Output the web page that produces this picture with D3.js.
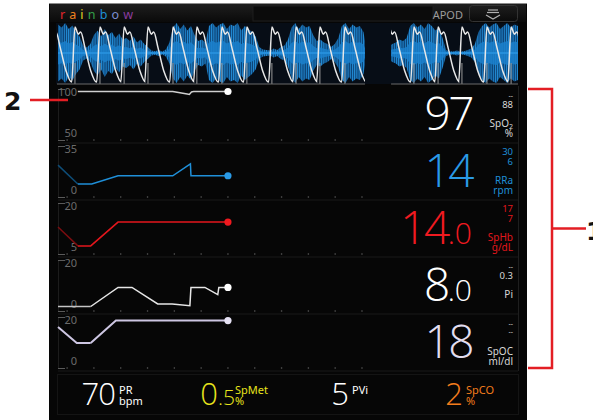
<!DOCTYPE html>
<html lang="en">
<head>
  <meta charset="UTF-8" />
  <title>rainbow monitor screen</title>
  <style>
    body { margin: 0; background: white; }
    svg { display: block; font-family: "Noto Sans", "Open Sans", sans-serif; }
  </style>
</head>
<body>
  <svg width="593" height="420"></svg>

  <script src="https://d3js.org/d3.v7.min.js"></script>
  <script>
    // ---- waveform data (seconds across a 16 s sweep) ----
    const beatTimes = [-0.27, 0.59, 1.46, 2.30, 3.13, 4.00, 4.83, 5.70, 6.57, 7.44, 8.28, 9.11, 9.98,
                       11.51, 12.38, 13.22, 14.05, 14.92, 15.76];
    // one pleth pulse: [seconds from peak, normalised height]
    const pulseShape = [[-0.115, 0], [0, 1], [0.115, 0.87], [0.2, 0.91], [0.35, 0.62], [0.55, 0.2], [0.74, 0]];
    // acoustic signal envelope, one value every 0.125 s
    const noiseAmp = [0.95, 0.85, 1.0, 0.8, 0.92, 0.7, 0.55,
                      0.25, 0.18, 0.3,
                      0.6, 0.75, 0.55, 0.8, 0.6, 0.7, 0.5, 0.65, 0.45,
                      0.5, 0.4, 0.55, 0.35, 0.45, 0.3, 0.2,
                      0.08, 0.06, 0.1, 0.05, 0.12, 0.35,
                      0.85, 1.0, 0.8, 0.95, 0.75, 0.9, 0.6,
                      0.4, 0.45, 0.35,
                      0.9, 1.0, 0.85, 0.95, 1.0, 0.8, 0.95, 0.9, 1.0, 0.75, 0.9, 0.8, 0.7, 0.55,
                      0.2, 0.12, 0.1, 0.08, 0.15, 0.1, 0.2, 0.25, 0.45,
                      0.85, 1.0, 0.8, 0.95, 0.85, 0.9, 0.6,
                      0.4, 0.45, 0.35, 0.3,
                      0.2, 0.3, 0.5,
                      0.9, 1.0, 0.8, 0.95, 0.85, 0.9, 0.7,
                      0, 0, 0, 0, 0, 0,
                      0.2, 0.3, 0.35, 0.45, 0.4, 0.5,
                      0.9, 1.0, 0.85, 0.95, 0.8, 1.0, 0.9, 0.75, 0.85, 0.5,
                      0.1, 0.06, 0.05, 0.08, 0.05, 0.06, 0.1, 0.15, 0.3,
                      0.7, 0.9, 1.0, 0.85, 0.95, 1.0, 0.8, 0.9, 1.0, 0.85, 0.95, 0.9];
    const noiseStep = 0.125;
    const sweeps = [[0, 10.68], [11.62, 16]];

    // ---- trend data: [minutes from now, value] ----
    const spo2Trend = [[-28, 100], [-10.3, 100], [-7.6, 97], [-7.2, 96.5], [-6.8, 99.5], [-6.4, 100], [0, 100]];
    const rraTrend = [[-31.7, 21], [-28, 5], [-25.4, 5], [-20.5, 12], [-10.3, 12], [-7, 22], [-6.9, 12], [0, 12]];
    const sphbTrend = [[-31.7, 12.2], [-28, 5.4], [-25.6, 5.4], [-20.5, 14], [0, 14]];
    const piTrend = [[-31.7, -1.2], [-25.6, -1.2], [-20.5, 8], [-17.9, 8], [-13.1, 0], [-10.4, 0], [-7.1, -0.8],
                     [-6.9, 8], [-4.3, 8], [-1.9, 4.5], [-1.7, 8], [0, 8]];
    const spocTrend = [[-31.7, 16.4], [-28.2, 8.7], [-25.6, 8.7], [-20.9, 19.5], [0, 19.5]];
    const trendTicks = [-30, -25, -20, -15, -10, -5, 0, 5, 10, 15, 20, 25];
    const historyEnd = -28;

    const trendNames = ["SpO", "RRa", "SpHb", "Pi", "SpOC"];
    const trendUnits = ["%", "rpm", "g/dL", "", "ml/dl"];
    const trendDomains = [[50, 100], [0, 35], [5, 20], [0, 20], [0, 20]];
    const currentWhole = ["97", "14", "14", "8", "18"];
    const currentDecimal = ["", "", ".0", ".0", ""];
    const alarmHigh = ["--", "30", "17", "--", "--"];
    const alarmLow = ["88", "6", "7", "0.3", "--"];

    const bottomNames = ["PR", "SpMet", "PVi", "SpCO"];
    const bottomWhole = ["70", "0", "5", "2"];
    const bottomDecimal = ["", ".5", "", ""];
    const bottomUnits = ["bpm", "%", "", "%"];

    const brandLetters = ["r", "a", "i", "n", "b", "o", "w"];
    const brandColors = ["#e4262c", "#ef8320", "#e6d424", "#33a04a", "#1f8fd6", "#7c8fcf", "#8a3c9e"];

    const trendData = [spo2Trend, rraTrend, sphbTrend, piTrend, spocTrend];
    const lineColors = ["#cfcfcf", "#1f8fd8", "#e3161c", "#e6e6e6", "#cdc6e2"];
    const dimColors = ["#cfcfcf", "#0e4d78", "#7c0d10", "#c4c4c4", "#cdc6e2"];
    const dotColors = ["#ffffff", "#2a9ae6", "#f0191f", "#ffffff", "#e6e2f4"];
    const valueColors = ["#ffffff", "#2a9ae6", "#f01a20", "#ffffff", "#e2deef"];
    const labelColors = ["#d8d8d8", "#1f8fd8", "#e3161c", "#d8d8d8", "#d8d8d8"];
    const bottomColors = ["#ffffff", "#e8e41c", "#ffffff", "#f27c1c"];

    const svg = d3.select("svg");
    const defs = svg.append("defs");

    // ---- frame ----
    svg.append("rect").attr("x", 49).attr("y", 3).attr("width", 478).attr("height", 417).attr("fill", "#060606");
    svg.append("line").attr("x1", 49).attr("x2", 527).attr("y1", 3.5).attr("y2", 3.5)
      .attr("stroke", "#8c8c8c").attr("stroke-width", 1);

    const hdrGrad = defs.append("linearGradient").attr("id", "hdr").attr("x1", 0).attr("x2", 0).attr("y1", 0).attr("y2", 1);
    hdrGrad.append("stop").attr("offset", 0).attr("stop-color", "#1e1e1e");
    hdrGrad.append("stop").attr("offset", 1).attr("stop-color", "#0a0a0a");
    svg.append("rect").attr("x", 50).attr("y", 4).attr("width", 476).attr("height", 18).attr("fill", "url(#hdr)");
    svg.append("rect").attr("x", 253).attr("y", 6).attr("width", 180).attr("height", 15)
      .attr("fill", "#0b0b0b").attr("stroke", "#1e1e1e");
    svg.append("rect").attr("x", 469.5).attr("y", 5.5).attr("width", 48).attr("height", 16).attr("rx", 3)
      .attr("fill", "url(#hdr)").attr("stroke", "#333");
    const icon = svg.append("g").attr("stroke", "#b0b0b0").attr("stroke-width", 1.2).attr("fill", "none");
    icon.append("line").attr("x1", 488).attr("x2", 498).attr("y1", 10).attr("y2", 10);
    icon.append("line").attr("x1", 487).attr("x2", 499).attr("y1", 12.5).attr("y2", 12.5);
    icon.append("path").attr("d", "M486,15 L493,19 L500,15");

    svg.append("text").attr("x", 60).attr("y", 19).attr("font-size", 12.5).attr("letter-spacing", 4.2)
      .selectAll("tspan").data(brandLetters).join("tspan")
      .attr("fill", (d, i) => brandColors[i]).text(d => d);
    svg.append("text").attr("x", 463).attr("y", 19).attr("text-anchor", "end")
      .attr("font-size", 11).attr("fill", "#9c9c9c").text("APOD");

    // ---- waveform ----
    const waveX = d3.scaleLinear().domain([0, 16]).range([58, 518]);
    const plethY = d3.scaleLinear().domain([0, 1]).range([82, 27]);
    const noiseY = d3.scaleLinear().domain([-1, 1]).range([83, 23]);

    svg.append("rect").attr("x", 56).attr("y", 23).attr("width", 462).attr("height", 61).attr("fill", "#070d16");

    sweeps.forEach((s, i) => {
      defs.append("clipPath").attr("id", "sweep" + i).append("rect")
        .attr("x", waveX(s[0]) - 1).attr("y", 22).attr("width", waveX(s[1]) - waveX(s[0]) + 1).attr("height", 63);
    });

    const tex = defs.append("pattern").attr("id", "noiseTex").attr("patternUnits", "userSpaceOnUse")
      .attr("width", 2.2).attr("height", 6);
    tex.append("rect").attr("width", 2.2).attr("height", 6).attr("fill", "#0b3f70");
    tex.append("rect").attr("width", 1).attr("height", 6).attr("fill", "#2490dc");

    const noiseArea = d3.area()
      .x((d, i) => waveX(i * noiseStep))
      .y0(d => noiseY(-d))
      .y1(d => noiseY(d));
    const innerArea = d3.area()
      .x((d, i) => waveX(i * noiseStep))
      .y0(d => noiseY(-d * 0.4))
      .y1(d => noiseY(d * 0.4));

    const plethPoints = beatTimes.flatMap(b => pulseShape.map(([dt, v]) => [b + dt, v]));
    const plethLine = d3.line().x(d => waveX(d[0])).y(d => plethY(d[1])).curve(d3.curveMonotoneX);

    sweeps.forEach((s, i) => {
      const g = svg.append("g").attr("clip-path", `url(#sweep${i})`);
      g.append("path").datum(noiseAmp).attr("d", noiseArea).attr("fill", "url(#noiseTex)");
      g.append("path").datum(noiseAmp).attr("d", innerArea).attr("fill", "#1b80cc").attr("opacity", 0.85);
      g.append("line").attr("x1", waveX(s[0])).attr("x2", waveX(s[1]))
        .attr("y1", noiseY(0)).attr("y2", noiseY(0)).attr("stroke", "#2a94e0").attr("stroke-width", 1.4);
      g.selectAll("line.beat").data(beatTimes).join("line").attr("class", "beat")
        .attr("x1", d => waveX(d)).attr("x2", d => waveX(d))
        .attr("y1", 63).attr("y2", 84).attr("stroke", "#9a9a9a").attr("stroke-width", 1);
      g.append("path").datum(plethPoints).attr("d", plethLine)
        .attr("fill", "none").attr("stroke", "#e8e8e8").attr("stroke-width", 1.5);
      svg.append("line").attr("x1", waveX(s[0]) - 1).attr("x2", waveX(s[1]))
        .attr("y1", 84).attr("y2", 84).attr("stroke", "#6a6a6a").attr("stroke-width", 1);
    });

    // ---- trend rows ----
    const trendX = d3.scaleLinear().domain([-31.7, 54.1]).range([58, 518]);
    const rowH = 57;

    trendNames.forEach((name, i) => {
      const top = 86 + i * rowH;
      const y = d3.scaleLinear().domain(trendDomains[i]).range([top + 47, top + 5.5]);
      const g = svg.append("g");

      g.append("line").attr("x1", 58).attr("x2", 518).attr("y1", top + rowH).attr("y2", top + rowH)
        .attr("stroke", "#191919");
      g.append("line").attr("x1", 58.5).attr("x2", 58.5).attr("y1", top + 3).attr("y2", top + 54)
        .attr("stroke", "#1c1c1c");
      [top + 3, top + 54].forEach(yy => {
        g.append("line").attr("x1", 58).attr("x2", 65).attr("y1", yy + 0.5).attr("y2", yy + 0.5)
          .attr("stroke", "#5a5a5a");
      });

      g.selectAll("circle.tick").data(trendTicks).join("circle").attr("class", "tick")
        .attr("cx", d => trendX(d)).attr("cy", top + 54).attr("r", 0.8).attr("fill", "#5a5a5a");

      g.append("g").attr("transform", "translate(78,0)")
        .call(d3.axisLeft(y).tickValues(trendDomains[i]).tickSize(0).tickPadding(1).tickFormat(d3.format("d")))
        .call(a => a.select(".domain").remove())
        .call(a => a.selectAll("text").attr("fill", "#6b6b6b").attr("font-size", 11)
          .attr("font-family", "\"Noto Sans\", sans-serif"));

      const line = d3.line().x(d => trendX(d[0])).y(d => y(d[1]));
      const data = trendData[i];
      // older history is drawn in a dimmer shade
      const k = data.findIndex(d => d[0] >= historyEnd);
      const past = data.slice(0, k + 1);
      const recent = data.slice(k);
      if (past.length > 1) {
        g.append("path").datum(past).attr("d", line).attr("fill", "none")
          .attr("stroke", dimColors[i]).attr("stroke-width", i === 4 ? 2 : 1.5);
      }
      g.append("path").datum(recent).attr("d", line).attr("fill", "none")
        .attr("stroke", lineColors[i]).attr("stroke-width", i === 4 ? 2 : 1.5);
      const last = data[data.length - 1];
      g.append("circle").attr("cx", trendX(last[0])).attr("cy", y(last[1])).attr("r", 3.6)
        .attr("fill", dotColors[i]);

      // numeric readout
      const big = g.append("text").attr("x", 472).attr("y", top + 43.5).attr("text-anchor", "end")
        .attr("fill", valueColors[i]).attr("font-family", "\"Open Sans\", \"Noto Sans\", sans-serif")
        .attr("font-weight", 300);
      big.append("tspan").attr("font-size", 46).attr("letter-spacing", -2.5).text(currentWhole[i]);
      if (currentDecimal[i]) big.append("tspan").attr("font-size", 30).text(currentDecimal[i]);

      const small = g.append("g").attr("fill", labelColors[i]).attr("font-size", 9.5).attr("text-anchor", "end");
      small.append("text").attr("x", 513).attr("y", top + (alarmHigh[i] === "--" ? 12 : 11.5))
        .attr("font-size", alarmHigh[i] === "--" ? 7 : 9.5).text(alarmHigh[i]);
      small.append("text").attr("x", 513).attr("y", top + (alarmLow[i] === "--" ? 20 : 21.5))
        .attr("font-size", alarmLow[i] === "--" ? 7 : 9.5).text(alarmLow[i]);
      const nm = small.append("text").attr("x", 513).attr("y", top + 40.5).attr("font-size", 10).text(name);
      if (i === 0) nm.append("tspan").attr("font-size", 7).attr("dy", 2).text("2");
      small.append("text").attr("x", 513).attr("y", top + 50.5).attr("font-size", 10).text(trendUnits[i]);
    });

    svg.append("line").attr("x1", 518.5).attr("x2", 518.5).attr("y1", 86).attr("y2", 86 + rowH * 5)
      .attr("stroke", "#1e1e1e");

    // ---- bottom parameters ----
    svg.append("rect").attr("x", 57.5).attr("y", 374.5).attr("width", 461).attr("height", 40)
      .attr("fill", "none").attr("stroke", "#141414");
    const bottomX = [115, 217, 348, 462];
    bottomNames.forEach((name, i) => {
      const t = svg.append("text").attr("x", bottomX[i]).attr("y", 405).attr("text-anchor", "end")
        .attr("fill", bottomColors[i]).attr("font-family", "\"Open Sans\", \"Noto Sans\", sans-serif")
        .attr("font-weight", 300);
      t.append("tspan").attr("font-size", 31).attr("letter-spacing", -1).text(bottomWhole[i]);
      const lx = bottomX[i] + 4 + (bottomDecimal[i] ? 14 : 0);
      if (bottomDecimal[i]) {
        svg.append("text").attr("x", bottomX[i] + 1).attr("y", 405).attr("fill", bottomColors[i])
          .attr("font-family", "\"Open Sans\", \"Noto Sans\", sans-serif").attr("font-weight", 300)
          .attr("font-size", 21).text(bottomDecimal[i]);
      }
      svg.append("text").attr("x", lx).attr("y", 394).attr("font-size", 11)
        .attr("fill", bottomColors[i]).text(name);
      if (bottomUnits[i]) {
        svg.append("text").attr("x", lx).attr("y", 405).attr("font-size", 11)
          .attr("fill", bottomColors[i]).text(bottomUnits[i]);
      }
    });

    // ---- callouts ----
    const red = "#e31e24";
    svg.append("line").attr("x1", 30).attr("x2", 68).attr("y1", 100).attr("y2", 100)
      .attr("stroke", red).attr("stroke-width", 2.5);
    svg.append("path").attr("d", "M528,89 H552 V368 H528 M552,228.5 H586")
      .attr("fill", "none").attr("stroke", red).attr("stroke-width", 2.5);
    svg.append("text").attr("x", 4).attr("y", 110).attr("font-size", 25).attr("font-weight", "bold")
      .attr("font-family", "\"DejaVu Sans\", sans-serif").attr("fill", "#111").text("2");
    svg.append("text").attr("x", 586).attr("y", 240).attr("font-size", 25).attr("font-weight", "bold")
      .attr("font-family", "\"DejaVu Sans\", sans-serif").attr("fill", "#111").text("1");
  </script>
</body>
</html>
